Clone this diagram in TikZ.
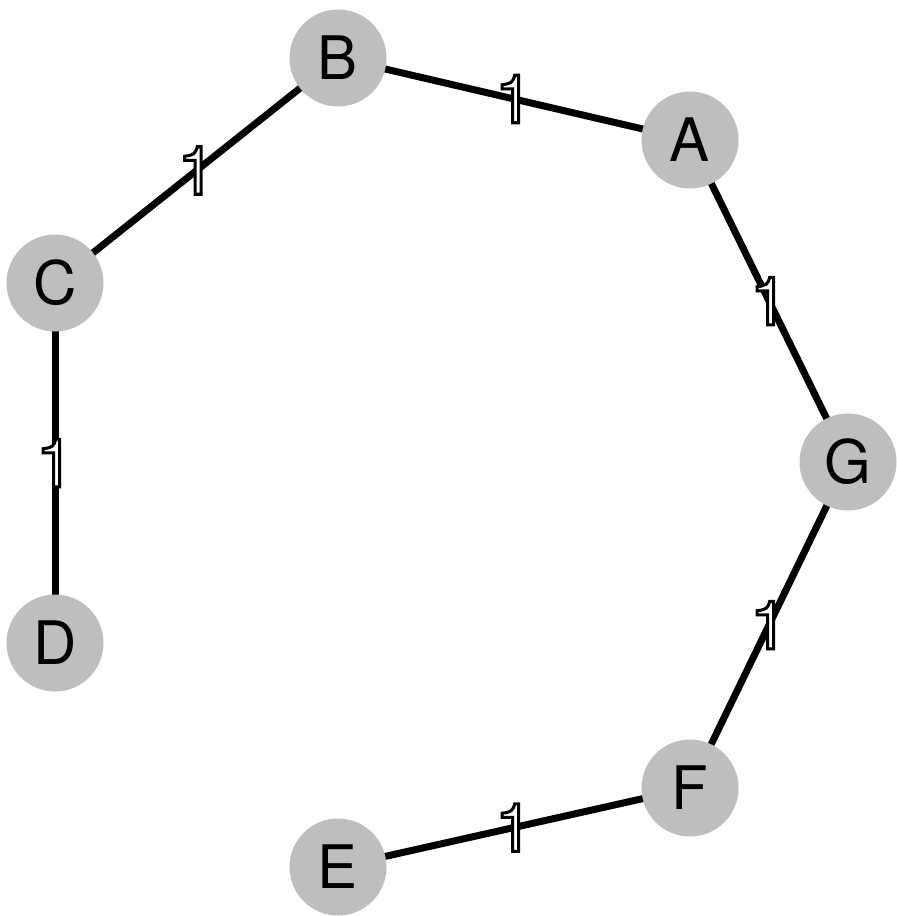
\documentclass[tikz,border=0pt]{standalone}
\usepackage{fontspec}
\setmainfont{TeX Gyre Heros}
\usetikzlibrary{backgrounds}
\definecolor{nodegray}{RGB}{190,190,190}
\newcommand{\outlined}[1]{{\color{white}\special{pdf:literal direct 2 Tr 0 G 3 w}#1\special{pdf:literal direct 0 Tr}}}
\begin{document}
\begin{tikzpicture}[x=1pt,y=-1pt,
  vtx/.style={circle,fill=nodegray,minimum size=97pt,inner sep=0pt,font=\fontsize{60}{60}\selectfont},
  edge/.style={line width=7pt,black},
  wlabel/.style={inner sep=0pt,font=\fontsize{67}{67}\selectfont}]
\useasboundingbox (0,0) rectangle (897,916);
\node[vtx] (B) at (338,58) {B};
\node[vtx] (A) at (690,140) {A};
\node[vtx] (C) at (55,283) {C};
\node[vtx] (G) at (848,462) {G};
\node[vtx] (D) at (55,643) {D};
\node[vtx] (F) at (690,788) {F};
\node[vtx] (E) at (338,867) {E};
\begin{scope}[on background layer]
\draw[edge] (B.center) -- node[wlabel] (lBA) {\outlined{1}} (A.center);
\draw[edge] (C.center) -- node[wlabel] (lCB) {\outlined{1}} (B.center);
\draw[edge] (C.center) -- node[wlabel] (lCD) {\outlined{1}} (D.center);
\draw[edge] (A.center) -- node[wlabel] (lAG) {\outlined{1}} (G.center);
\draw[edge] (G.center) -- node[wlabel] (lGF) {\outlined{1}} (F.center);
\draw[edge] (F.center) -- node[wlabel] (lFE) {\outlined{1}} (E.center);
\end{scope}
\end{tikzpicture}
\end{document}
